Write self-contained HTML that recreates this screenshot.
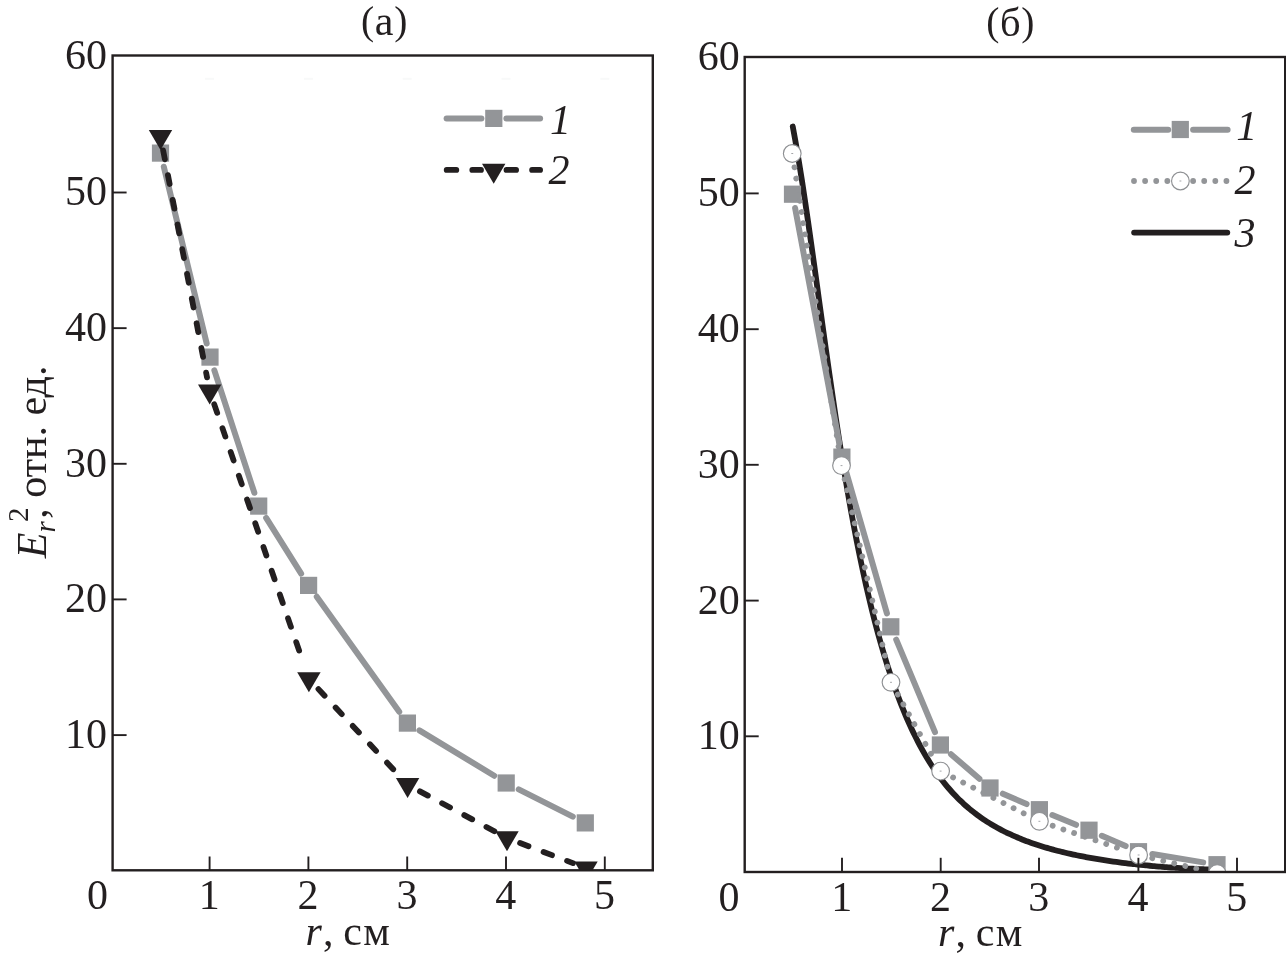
<!DOCTYPE html>
<html lang="ru"><head><meta charset="utf-8"><title>Figure</title>
<style>html,body{margin:0;padding:0;background:#fff;overflow:hidden}body{width:1286px;height:959px;font-family:"Liberation Serif",serif}svg{display:block;will-change:transform}</style></head>
<body>
<svg width="1286" height="959" viewBox="0 0 1286 959" font-family='"Liberation Serif", serif' fill="#231f20">
<rect width="1286" height="959" fill="#fff"/>
<defs><clipPath id="cl"><rect x="112.6" y="55.5" width="540.2" height="814.8"/></clipPath><clipPath id="cr"><rect x="744.7" y="57" width="540.5" height="815"/></clipPath></defs>
<g clip-path="url(#cl)">
<g stroke="#939598" stroke-width="6" stroke-linecap="round">
<line x1="163.8" y1="166.71" x2="206.7" y2="343.49" />
<line x1="214.35" y1="370.41" x2="254.35" y2="492.79" />
<line x1="266.16" y1="517.95" x2="301.14" y2="573.55" />
<line x1="316.76" y1="596.77" x2="399.24" y2="711.73" />
<line x1="419.37" y1="730.36" x2="494.23" y2="775.74" />
<line x1="518.7" y1="789.31" x2="572.8" y2="816.59" />
</g>
<rect x="151.9" y="144.5" width="17.2" height="17.2" fill="#939598"/>
<rect x="201.4" y="348.5" width="17.2" height="17.2" fill="#939598"/>
<rect x="250.1" y="497.5" width="17.2" height="17.2" fill="#939598"/>
<rect x="300" y="576.8" width="17.2" height="17.2" fill="#939598"/>
<rect x="398.8" y="714.5" width="17.2" height="17.2" fill="#939598"/>
<rect x="497.6" y="774.4" width="17.2" height="17.2" fill="#939598"/>
<rect x="576.7" y="814.3" width="17.2" height="17.2" fill="#939598"/>
<g stroke="#231f20" stroke-width="5.8" stroke-linecap="round" stroke-dasharray="9.0 16.15">
<line x1="163.16" y1="150.45" x2="207.04" y2="377.35" />
<line x1="214.26" y1="404.34" x2="304.34" y2="665.66" />
<line x1="318.45" y1="689.14" x2="398.05" y2="774.46" />
<line x1="419.94" y1="791.32" x2="494.66" y2="831.38" />
<line x1="520.08" y1="842.98" x2="572.92" y2="863.12" />
</g>
<polygon points="148.8,130.03 172.2,130.03 160.5,150.03" fill="#231f20"/>
<polygon points="198,384.43 221.4,384.43 209.7,404.43" fill="#231f20"/>
<polygon points="297.2,672.23 320.6,672.23 308.9,692.23" fill="#231f20"/>
<polygon points="395.9,778.03 419.3,778.03 407.6,798.03" fill="#231f20"/>
<polygon points="495.3,831.33 518.7,831.33 507,851.33" fill="#231f20"/>
<polygon points="574.3,861.43 597.7,861.43 586,881.43" fill="#231f20"/>
</g>
<rect x="205.1" y="77.8" width="9" height="2" fill="#f8f9f9"/>
<rect x="303.9" y="77.8" width="9" height="2" fill="#f8f9f9"/>
<rect x="402.7" y="77.8" width="9" height="2" fill="#f8f9f9"/>
<rect x="501.5" y="77.8" width="9" height="2" fill="#f8f9f9"/>
<rect x="600.3" y="77.8" width="9" height="2" fill="#f8f9f9"/>
<g stroke="#939598" stroke-width="6" stroke-linecap="round">
<line x1="446.6" y1="118.4" x2="481.4" y2="118.4"/><line x1="506.4" y1="118.4" x2="540.1" y2="118.4"/>
</g>
<rect x="485.2" y="109.8" width="17.2" height="17.2" fill="#939598"/>
<polygon points="482,163.73 505.4,163.73 493.7,183.73" fill="#231f20"/>
<g stroke="#231f20" stroke-width="5.8" stroke-linecap="round" stroke-dasharray="9.6 16">
<line x1="446.7" y1="169.9" x2="481" y2="169.9"/><line x1="506.5" y1="169.9" x2="540.1" y2="169.9"/>
</g>
<text x="550" y="134" font-size="42" text-anchor="start" font-style="italic" >1</text>
<text x="548.6" y="184" font-size="42" text-anchor="start" font-style="italic" >2</text>
<rect x="112.6" y="55.5" width="540.2" height="814.8" fill="none" stroke="#231f20" stroke-width="2.4"/>
<g stroke="#231f20" stroke-width="1.9">
<line x1="209.6" y1="856.5" x2="209.6" y2="870.3"/>
<line x1="308.4" y1="856.5" x2="308.4" y2="870.3"/>
<line x1="407.2" y1="856.5" x2="407.2" y2="870.3"/>
<line x1="506" y1="856.5" x2="506" y2="870.3"/>
<line x1="604.8" y1="856.5" x2="604.8" y2="870.3"/>
<line x1="112.6" y1="192.5" x2="126.6" y2="192.5"/>
<line x1="112.6" y1="328.15" x2="126.6" y2="328.15"/>
<line x1="112.6" y1="463.8" x2="126.6" y2="463.8"/>
<line x1="112.6" y1="599.4" x2="126.6" y2="599.4"/>
<line x1="112.6" y1="735.1" x2="126.6" y2="735.1"/>
</g>
<text x="107" y="68.8" font-size="42" text-anchor="end" >60</text>
<text x="107" y="205.3" font-size="42" text-anchor="end" >50</text>
<text x="107" y="340.95" font-size="42" text-anchor="end" >40</text>
<text x="107" y="476.6" font-size="42" text-anchor="end" >30</text>
<text x="107" y="612.2" font-size="42" text-anchor="end" >20</text>
<text x="107" y="747.9" font-size="42" text-anchor="end" >10</text>
<text x="97.5" y="909.3" font-size="42" text-anchor="middle" >0</text>
<text x="209.3" y="909.2" font-size="42" text-anchor="middle" >1</text>
<text x="308.1" y="909.2" font-size="42" text-anchor="middle" >2</text>
<text x="406.9" y="909.2" font-size="42" text-anchor="middle" >3</text>
<text x="505.7" y="909.2" font-size="42" text-anchor="middle" >4</text>
<text x="604.5" y="909.2" font-size="42" text-anchor="middle" >5</text>
<text x="384.2" y="34.8" font-size="42" text-anchor="middle" ><tspan font-size="39.5" dy="-0.9">(</tspan><tspan dy="0.9" dx="0.6">a</tspan><tspan font-size="39.5" dy="-0.9" dx="0.6">)</tspan></text>
<text x="305.6" y="945" font-size="42" text-anchor="start" font-style="italic" >r</text>
<text x="322.9" y="945" font-size="42" text-anchor="start" >,</text>
<text x="343.3" y="945" font-size="42" text-anchor="start" >с</text>
<text x="363.2" y="945" font-size="42" text-anchor="start" >м</text>
<g transform="translate(46.2,558.3) rotate(-90)">
<text x="0" y="0" font-size="42" text-anchor="start" font-style="italic" >E</text>
<text x="25.8" y="9" font-size="29" text-anchor="start" font-style="italic" >r</text>
<text x="36.2" y="-18.2" font-size="29" text-anchor="start" >2</text>
<text x="39.5" y="0" font-size="42" text-anchor="start" >, отн. ед.</text>
</g>
<g clip-path="url(#cr)">
<path d="M792.75 126.54C793.26 129.32 794.78 137.41 795.8 143.18C796.82 148.95 797.84 154.99 798.85 161.18C799.87 167.37 800.89 173.79 801.91 180.33C802.92 186.87 803.94 193.6 804.96 200.43C805.98 207.25 806.99 214.23 808.01 221.27C809.03 228.31 810.05 235.48 811.06 242.68C812.08 249.88 813.1 257.17 814.12 264.47C815.13 271.77 816.15 279.13 817.17 286.48C818.18 293.83 819.2 301.21 820.22 308.56C821.24 315.91 822.25 323.26 823.27 330.56C824.29 337.87 825.31 345.15 826.32 352.37C827.34 359.59 828.36 366.77 829.38 373.87C830.39 380.97 831.41 388.02 832.43 394.97C833.45 401.92 834.46 408.8 835.48 415.58C836.5 422.36 837.51 429.05 838.53 435.63C839.55 442.21 840.57 448.69 841.58 455.06C842.6 461.43 843.62 467.69 844.64 473.83C845.65 479.97 846.67 485.99 847.69 491.89C848.71 497.79 849.72 503.57 850.74 509.22C851.76 514.88 852.78 520.4 853.79 525.81C854.81 531.21 855.83 536.49 856.85 541.65C857.86 546.82 858.88 551.86 859.9 556.79C860.91 561.72 861.93 566.53 862.95 571.24C863.97 575.95 864.98 580.54 866 585.03C867.02 589.53 868.04 593.91 869.05 598.2C870.07 602.48 871.09 606.67 872.11 610.75C873.12 614.84 874.14 618.83 875.16 622.73C876.18 626.63 877.19 630.44 878.21 634.15C879.23 637.87 880.25 641.5 881.26 645.04C882.28 648.59 883.3 652.04 884.31 655.42C885.33 658.8 886.35 662.09 887.37 665.31C888.38 668.52 889.4 671.66 890.42 674.73C891.44 677.79 892.45 680.78 893.47 683.7C894.49 686.62 895.51 689.47 896.52 692.25C897.54 695.03 898.56 697.74 899.58 700.38C900.59 703.03 901.61 705.61 902.63 708.13C903.65 710.65 904.66 713.1 905.68 715.5C906.7 717.9 907.71 720.24 908.73 722.52C909.75 724.8 910.77 727.03 911.78 729.2C912.8 731.37 913.82 733.49 914.84 735.56C915.85 737.62 916.87 739.64 917.89 741.6C918.91 743.57 919.92 745.49 920.94 747.36C921.96 749.23 922.98 751.05 923.99 752.83C925.01 754.61 926.03 756.34 927.04 758.03C928.06 759.73 929.08 761.37 930.1 762.98C931.11 764.6 932.13 766.16 933.15 767.69C934.17 769.23 935.18 770.72 936.2 772.17C937.22 773.63 938.24 775.05 939.25 776.43C940.27 777.82 941.29 779.17 942.31 780.49C943.32 781.8 944.34 783.09 945.36 784.34C946.38 785.59 947.39 786.81 948.41 788C949.43 789.2 950.44 790.36 951.46 791.49C952.48 792.62 953.5 793.73 954.51 794.8C955.53 795.88 956.55 796.93 957.57 797.96C958.58 798.98 959.6 799.98 960.62 800.96C961.64 801.93 962.65 802.88 963.67 803.81C964.69 804.74 965.71 805.65 966.72 806.53C967.74 807.42 968.76 808.28 969.78 809.12C970.79 809.97 971.81 810.79 972.83 811.6C973.84 812.4 974.86 813.19 975.88 813.95C976.9 814.72 977.91 815.47 978.93 816.21C979.95 816.94 980.97 817.65 981.98 818.35C983 819.06 984.02 819.74 985.04 820.41C986.05 821.08 987.07 821.73 988.09 822.37C989.11 823.01 990.12 823.64 991.14 824.25C992.16 824.86 993.18 825.46 994.19 826.05C995.21 826.64 996.23 827.21 997.24 827.77C998.26 828.33 999.28 828.88 1000.3 829.42C1001.31 829.96 1002.33 830.48 1003.35 831C1004.37 831.52 1005.38 832.02 1006.4 832.52C1007.42 833.01 1008.44 833.5 1009.45 833.97C1010.47 834.45 1011.49 834.91 1012.51 835.37C1013.52 835.83 1014.54 836.27 1015.56 836.71C1016.57 837.15 1017.59 837.58 1018.61 838C1019.63 838.42 1020.64 838.84 1021.66 839.24C1022.68 839.65 1023.7 840.04 1024.71 840.43C1025.73 840.82 1026.75 841.21 1027.77 841.58C1028.78 841.96 1029.8 842.32 1030.82 842.68C1031.84 843.05 1032.85 843.4 1033.87 843.75C1034.89 844.1 1035.91 844.44 1036.92 844.77C1037.94 845.11 1038.96 845.44 1039.97 845.76C1040.99 846.08 1042.01 846.4 1043.03 846.71C1044.04 847.02 1045.06 847.33 1046.08 847.63C1047.1 847.93 1048.11 848.23 1049.13 848.52C1050.15 848.81 1051.17 849.09 1052.18 849.37C1053.2 849.65 1054.22 849.93 1055.24 850.2C1056.25 850.47 1057.27 850.73 1058.29 850.99C1059.31 851.26 1060.32 851.51 1061.34 851.76C1062.36 852.02 1063.37 852.26 1064.39 852.51C1065.41 852.75 1066.43 852.99 1067.44 853.23C1068.46 853.46 1069.48 853.69 1070.5 853.92C1071.51 854.15 1072.53 854.37 1073.55 854.59C1074.57 854.81 1075.58 855.03 1076.6 855.24C1077.62 855.45 1078.64 855.66 1079.65 855.87C1080.67 856.07 1081.69 856.27 1082.71 856.47C1083.72 856.67 1084.74 856.87 1085.76 857.06C1086.77 857.25 1087.79 857.44 1088.81 857.63C1089.83 857.81 1090.84 858 1091.86 858.18C1092.88 858.36 1093.9 858.53 1094.91 858.71C1095.93 858.88 1096.95 859.05 1097.97 859.22C1098.98 859.39 1100 859.55 1101.02 859.72C1102.04 859.88 1103.05 860.04 1104.07 860.2C1105.09 860.35 1106.1 860.51 1107.12 860.66C1108.14 860.81 1109.16 860.96 1110.17 861.11C1111.19 861.26 1112.21 861.4 1113.23 861.55C1114.24 861.69 1115.26 861.83 1116.28 861.97C1117.3 862.1 1118.31 862.24 1119.33 862.37C1120.35 862.51 1121.37 862.64 1122.38 862.77C1123.4 862.89 1124.42 863.02 1125.44 863.15C1126.45 863.27 1127.47 863.39 1128.49 863.51C1129.5 863.63 1130.52 863.75 1131.54 863.87C1132.56 863.99 1133.57 864.1 1134.59 864.21C1135.61 864.32 1136.63 864.44 1137.64 864.54C1138.66 864.65 1139.68 864.76 1140.7 864.86C1141.71 864.97 1142.73 865.07 1143.75 865.17C1144.77 865.28 1145.78 865.37 1146.8 865.47C1147.82 865.57 1148.84 865.67 1149.85 865.76C1150.87 865.86 1151.89 865.95 1152.9 866.04C1153.92 866.13 1154.94 866.22 1155.96 866.31C1156.97 866.39 1157.99 866.48 1159.01 866.56C1160.03 866.65 1161.04 866.73 1162.06 866.81C1163.08 866.89 1164.1 866.97 1165.11 867.05C1166.13 867.12 1167.15 867.2 1168.17 867.27C1169.18 867.35 1170.2 867.42 1171.22 867.49C1172.24 867.56 1173.25 867.63 1174.27 867.7C1175.29 867.77 1176.3 867.83 1177.32 867.9C1178.34 867.96 1179.36 868.03 1180.37 868.09C1181.39 868.15 1182.41 868.21 1183.43 868.27C1184.44 868.33 1185.46 868.39 1186.48 868.44C1187.5 868.5 1188.51 868.55 1189.53 868.61C1190.55 868.66 1191.57 868.71 1192.58 868.76C1193.6 868.82 1194.62 868.87 1195.63 868.91C1196.65 868.96 1197.67 869.01 1198.69 869.06C1199.7 869.1 1200.72 869.15 1201.74 869.19C1202.76 869.24 1203.77 869.28 1204.79 869.32C1205.81 869.37 1206.83 869.41 1207.84 869.45C1208.86 869.49 1209.88 869.52 1210.9 869.56C1211.91 869.6 1212.93 869.64 1213.95 869.67C1214.97 869.71 1216.49 869.76 1217 869.78" fill="none" stroke="#231f20" stroke-width="5.8" stroke-linecap="round" stroke-linejoin="round"/>
<g stroke="#939598" stroke-width="6" stroke-linecap="round">
<line x1="795.09" y1="207.96" x2="839.31" y2="443.34" />
<line x1="845.78" y1="470.55" x2="886.92" y2="613.35" />
<line x1="896.22" y1="639.71" x2="934.98" y2="732.09" />
<line x1="950.98" y1="754.17" x2="979.42" y2="778.83" />
<line x1="1002.82" y1="793.63" x2="1026.58" y2="804.07" />
<line x1="1052.34" y1="815.05" x2="1076.06" y2="824.85" />
<line x1="1101.84" y1="835.78" x2="1125.66" y2="846.12" />
<line x1="1152.31" y1="853.99" x2="1203.19" y2="862.41" />
</g>
<rect x="783.9" y="185.6" width="17.2" height="17.2" fill="#939598"/>
<rect x="833.3" y="448.5" width="17.2" height="17.2" fill="#939598"/>
<rect x="882.2" y="618.2" width="17.2" height="17.2" fill="#939598"/>
<rect x="931.8" y="736.4" width="17.2" height="17.2" fill="#939598"/>
<rect x="981.4" y="779.4" width="17.2" height="17.2" fill="#939598"/>
<rect x="1030.8" y="801.1" width="17.2" height="17.2" fill="#939598"/>
<rect x="1080.4" y="821.6" width="17.2" height="17.2" fill="#939598"/>
<rect x="1129.9" y="843.1" width="17.2" height="17.2" fill="#939598"/>
<rect x="1208.4" y="856.1" width="17.2" height="17.2" fill="#939598"/>
<g stroke="#939598" stroke-width="5.8" stroke-linecap="round" stroke-dasharray="0.01 11.3">
<line x1="794.43" y1="167.33" x2="839.32" y2="451.77" />
<line x1="844.62" y1="479.25" x2="887.88" y2="668.65" />
<line x1="897.83" y1="694.52" x2="933.77" y2="758.88" />
<line x1="953.08" y1="777.44" x2="1026.92" y2="814.96" />
<line x1="1052.66" y1="825.8" x2="1125.34" y2="850.5" />
<line x1="1152.22" y1="858.22" x2="1203.58" y2="870.38" />
</g>
<circle cx="792.25" cy="153.5" r="8.85" fill="#fff" stroke="#8e9093" stroke-width="1.15"/><rect x="791.3" y="153" width="1.9" height="1" fill="#a3a5a8"/>
<circle cx="841.5" cy="465.6" r="8.85" fill="#fff" stroke="#8e9093" stroke-width="1.15"/><rect x="840.55" y="465.1" width="1.9" height="1" fill="#a3a5a8"/>
<circle cx="891" cy="682.3" r="8.85" fill="#fff" stroke="#8e9093" stroke-width="1.15"/><rect x="890.05" y="681.8" width="1.9" height="1" fill="#a3a5a8"/>
<circle cx="940.6" cy="771.1" r="8.85" fill="#fff" stroke="#8e9093" stroke-width="1.15"/><rect x="939.65" y="770.6" width="1.9" height="1" fill="#a3a5a8"/>
<circle cx="1039.4" cy="821.3" r="8.85" fill="#fff" stroke="#8e9093" stroke-width="1.15"/><rect x="1038.45" y="820.8" width="1.9" height="1" fill="#a3a5a8"/>
<circle cx="1138.6" cy="855" r="8.85" fill="#fff" stroke="#8e9093" stroke-width="1.15"/><rect x="1137.65" y="854.5" width="1.9" height="1" fill="#a3a5a8"/>
<circle cx="1217.2" cy="873.6" r="8.85" fill="#fff" stroke="#8e9093" stroke-width="1.15"/><rect x="1216.25" y="873.1" width="1.9" height="1" fill="#a3a5a8"/>
</g>
<g stroke="#939598" stroke-width="6" stroke-linecap="round">
<line x1="1133.8" y1="129.7" x2="1168.2" y2="129.7"/><line x1="1193.1" y1="129.7" x2="1227.6" y2="129.7"/>
</g>
<rect x="1171.7" y="120.9" width="17.2" height="17.2" fill="#939598"/>
<g stroke="#939598" stroke-width="5.8" stroke-linecap="round" stroke-dasharray="0.01 11.1">
<line x1="1134" y1="181" x2="1170" y2="181"/><line x1="1193.1" y1="181" x2="1229" y2="181"/>
</g>
<circle cx="1180.4" cy="181" r="8.85" fill="#fff" stroke="#8e9093" stroke-width="1.15"/><rect x="1179.45" y="180.5" width="1.9" height="1" fill="#a3a5a8"/>
<line x1="1134.1" y1="232.6" x2="1227.3" y2="232.6" stroke="#231f20" stroke-width="5.8" stroke-linecap="round"/>
<text x="1236.2" y="140.3" font-size="42" text-anchor="start" font-style="italic" >1</text>
<text x="1234.5" y="194" font-size="42" text-anchor="start" font-style="italic" >2</text>
<text x="1234.5" y="246.6" font-size="42" text-anchor="start" font-style="italic" >3</text>
<rect x="744.7" y="57" width="540.5" height="815" fill="none" stroke="#231f20" stroke-width="2.4"/>
<g stroke="#231f20" stroke-width="1.9">
<line x1="842" y1="857.8" x2="842" y2="872"/>
<line x1="940.7" y1="857.8" x2="940.7" y2="872"/>
<line x1="1039" y1="857.8" x2="1039" y2="872"/>
<line x1="1138.4" y1="857.8" x2="1138.4" y2="872"/>
<line x1="1237" y1="857.8" x2="1237" y2="872"/>
<line x1="744.7" y1="193.4" x2="758.7" y2="193.4"/>
<line x1="744.7" y1="329.2" x2="758.7" y2="329.2"/>
<line x1="744.7" y1="464.8" x2="758.7" y2="464.8"/>
<line x1="744.7" y1="600.6" x2="758.7" y2="600.6"/>
<line x1="744.7" y1="736.3" x2="758.7" y2="736.3"/>
</g>
<text x="739.7" y="69.9" font-size="42" text-anchor="end" >60</text>
<text x="739.7" y="206.4" font-size="42" text-anchor="end" >50</text>
<text x="739.7" y="342.2" font-size="42" text-anchor="end" >40</text>
<text x="739.7" y="477.8" font-size="42" text-anchor="end" >30</text>
<text x="739.7" y="613.6" font-size="42" text-anchor="end" >20</text>
<text x="739.7" y="749.3" font-size="42" text-anchor="end" >10</text>
<text x="729" y="911" font-size="42" text-anchor="middle" >0</text>
<text x="841.7" y="911" font-size="42" text-anchor="middle" >1</text>
<text x="940.4" y="911" font-size="42" text-anchor="middle" >2</text>
<text x="1038.7" y="911" font-size="42" text-anchor="middle" >3</text>
<text x="1138.1" y="911" font-size="42" text-anchor="middle" >4</text>
<text x="1236.7" y="911" font-size="42" text-anchor="middle" >5</text>
<text x="1010.3" y="35.6" font-size="42" text-anchor="middle" ><tspan font-size="39.5" dy="-0.9">(</tspan><tspan dy="0.9" dx="0.6" font-size="40.5">б</tspan><tspan font-size="39.5" dy="-0.9" dx="0.6">)</tspan></text>
<text x="938.1" y="946" font-size="42" text-anchor="start" font-style="italic" >r</text>
<text x="955.4" y="946" font-size="42" text-anchor="start" >,</text>
<text x="975.8" y="946" font-size="42" text-anchor="start" >с</text>
<text x="995.7" y="946" font-size="42" text-anchor="start" >м</text>
</svg>
</body></html>
